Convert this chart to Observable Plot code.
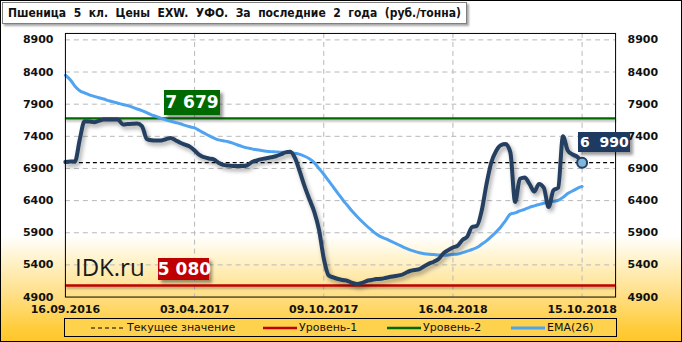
<!DOCTYPE html>
<html>
<head>
<meta charset="utf-8">
<script src="https://cdn.jsdelivr.net/npm/d3@7"></script>
<script src="https://cdn.jsdelivr.net/npm/@observablehq/plot@0.6"></script>
<style>
  html, body { margin: 0; padding: 0; background: #fff; }
  #wrap {
    position: relative; width: 682px; height: 342px; box-sizing: border-box;
    border: 1px solid #000;
    background: linear-gradient(to bottom, #ffffff 0%, #ffffff 69%, #fff3cc 76%, #ffe08a 86%, #ffcd3c 96%, #ffc62a 100%);
    overflow: hidden;
  }
  #chart { position: absolute; left: -1px; top: -1px; }
  #title {
    position: absolute; left: 1px; top: 1px; height: 20px; padding: 0 5px;
    background: #fff; border: 1px solid #7f7f7f; box-shadow: 2px 2px 2px rgba(0,0,0,0.35);
    font: bold 12px "DejaVu Sans Condensed", "DejaVu Sans", sans-serif; line-height: 20px; color: #111;
    white-space: pre;
  }
  .vlabel {
    position: absolute; color: #fff; font-family: "DejaVu Sans", sans-serif; font-weight: bold;
    text-align: center; box-shadow: 3px 3px 3px rgba(0,0,0,0.4); white-space: pre;
  }
  #brand { position: absolute; font: 24px "Open Sans", sans-serif; color: #1a1a1a; }
  #legend {
    position: absolute; left: 63px; top: 317px; width: 553px; height: 19px; box-sizing: border-box;
    border: 1px solid #000; background: #ffd24d;
    font: 11px "DejaVu Sans", sans-serif; color: #111;
  }
  #legend .it { position: absolute; top: 2px; height: 14px; line-height: 14px; white-space: nowrap; }
  #legend svg { vertical-align: middle; }
</style>
</head>
<body>
<div id="wrap">
  <div id="chart"></div>
</div>
<script>
const title = "Пшеница  5  кл.  Цены  EXW.  УФО.  За  последние  2  года  (руб./тонна)";
const tickIndex = [0, 27, 54, 81, 108];
const tickLabels = ["16.09.2016", "03.04.2017", "09.10.2017", "16.04.2018", "15.10.2018"];
const yTicks = [4900, 5400, 5900, 6400, 6900, 7400, 7900, 8400, 8900];
const price = [7000,7010,7010,7350,7634,7630,7620,7640,7660,7660,7660,7660,7585,7590,7595,7598,7560,7360,7340,7335,
  7335,7355,7375,7340,7300,7270,7240,7180,7110,7075,7055,7040,6990,6955,6945,6940,6940,6938,6950,7000,
  7025,7045,7060,7075,7090,7117,7150,7160,7060,6850,6620,6420,6230,5950,5500,5240,5205,5180,5165,5150,
  5120,5102,5120,5150,5165,5180,5185,5200,5215,5228,5240,5270,5305,5320,5333,5380,5420,5450,5490,5580,
  5630,5670,5700,5790,5840,5990,6006,6239,6650,6990,7168,7261,7280,7150,6380,6740,6760,6660,6540,6660,
  6600,6300,6560,6600,7400,7180,7117,7080,6990];
const ema = [8350,8280,8180,8110,8075,8045,8022,8000,7980,7955,7935,7915,7895,7878,7855,7825,7800,7770,7735,7710,
  7680,7655,7635,7615,7595,7570,7548,7530,7490,7450,7410,7375,7345,7330,7315,7295,7265,7240,7220,7205,
  7190,7178,7168,7162,7158,7152,7150,7147,7135,7120,7090,7050,6990,6900,6810,6710,6610,6510,6410,6320,
  6230,6150,6075,6005,5940,5880,5835,5805,5770,5735,5700,5665,5635,5610,5590,5575,5565,5560,5555,5552,
  5555,5562,5570,5590,5615,5640,5670,5720,5774,5840,5910,5990,6090,6190,6210,6239,6265,6295,6318,6340,
  6360,6375,6390,6405,6450,6510,6550,6590,6620];
const level1 = 5080;
const level2 = 7679;
const current = 6990;
const legendLabels = ["Текущее значение", "Уровень-1", "Уровень-2", "EMA(26)"];

const priceData = price.map((v, i) => ({i, v}));
const emaData = ema.map((v, i) => ({i, v}));
const last = priceData[priceData.length - 1];

const NAVY = "#243f60", BLUE = "#4fa3f0", GREEN = "#006a00", RED = "#c00000";

const plot = Plot.plot({
  width: 682, height: 342,
  marginLeft: 65, marginRight: 66, marginTop: 33, marginBottom: 45,
  style: {background: "transparent", fontFamily: "DejaVu Sans, sans-serif", fontSize: "11px", fontWeight: "bold", color: "#111", overflow: "visible"},
  x: {type: "linear", domain: [0, 115], ticks: tickIndex, tickFormat: i => tickLabels[tickIndex.indexOf(i)], tickSize: 0, tickPadding: 8, label: null},
  y: {domain: [4900, 9000], ticks: yTicks, tickFormat: d => String(d), tickSize: 0, tickPadding: 12, axis: "both", label: null},
  marks: [
    Plot.ruleY(yTicks.slice(1), {stroke: "#b8b8b8", strokeDasharray: "5,4", strokeWidth: 1}),
    Plot.ruleX(tickIndex.slice(1), {stroke: "#b8b8b8", strokeDasharray: "5,4", strokeWidth: 1}),
    Plot.ruleY([current], {stroke: "#000", strokeDasharray: "4,3", strokeWidth: 1.2}),
    Plot.ruleY([level2], {stroke: GREEN, strokeWidth: 2.2}),
    Plot.ruleY([level1], {stroke: RED, strokeWidth: 2.5}),
    Plot.line(emaData, {x: "i", y: "v", stroke: BLUE, strokeWidth: 3, curve: "monotone-x"}),
    Plot.line(priceData, {x: "i", y: "v", stroke: NAVY, strokeWidth: 4, curve: "monotone-x"}),
    Plot.dot([last], {x: "i", y: "v", r: 5, fill: "#7fb6dc", stroke: NAVY, strokeWidth: 2}),
    Plot.frame({stroke: "#000", strokeWidth: 1})
  ]
});
document.getElementById("chart").appendChild(plot);

// shadows on series lines
d3.select(plot).selectAll(`[stroke="${NAVY}"] path, path[stroke="${NAVY}"]`).style("filter", "drop-shadow(2px 3px 2px rgba(0,0,0,0.35))");
d3.select(plot).selectAll(`[stroke="${GREEN}"], [stroke="${RED}"]`).style("filter", "drop-shadow(1px 2px 1px rgba(0,0,0,0.3))");
// axis label x offsets for the right axis
const wrap = document.getElementById("wrap");
const xs = plot.scale("x"), ys = plot.scale("y");

// title
const t = document.createElement("div");
t.id = "title"; t.textContent = title; wrap.appendChild(t);

// value labels positioned through the scales
function label(text, bg, cx, bottom, w, h, size) {
  const d = document.createElement("div");
  d.className = "vlabel"; d.textContent = text;
  Object.assign(d.style, {background: bg, width: w + "px", height: h + "px", lineHeight: h + "px",
    left: (cx - w / 2 - 1) + "px", top: (bottom - h - 1) + "px", fontSize: size + "px"});
  wrap.appendChild(d);
}
label("7 679", GREEN, xs.apply(26.5), ys.apply(level2) - 3, 56, 25, 17);
label("5 080", RED, xs.apply(24.7), ys.apply(level1) - 5, 51, 22, 17);
label("6  990", "#1f3a60", xs.apply(last.i) + 22, ys.apply(last.v) - 10, 52, 20, 14);

// brand
const b = document.createElement("div");
b.id = "brand"; b.textContent = "IDK.ru";
b.style.left = "74px"; b.style.top = (ys.apply(level1) - 36) + "px";
wrap.appendChild(b);

// legend
const lg = document.createElement("div"); lg.id = "legend"; wrap.appendChild(lg);
const items = [
  {x: 26, stroke: "#000", dash: "4,3", w: 1.2, label: legendLabels[0]},
  {x: 198, stroke: RED, dash: null, w: 2.5, label: legendLabels[1]},
  {x: 322, stroke: GREEN, dash: null, w: 2.5, label: legendLabels[2]},
  {x: 446, stroke: BLUE, dash: null, w: 3, label: legendLabels[3]}
];
for (const it of items) {
  const d = document.createElement("div"); d.className = "it"; d.style.left = it.x + "px";
  d.innerHTML = `<svg width="36" height="10"><line x1="0" x2="34" y1="5" y2="5" stroke="${it.stroke}" stroke-width="${it.w}" ${it.dash ? `stroke-dasharray="${it.dash}"` : ""}/></svg><span>${it.label}</span>`;
  lg.appendChild(d);
}
</script>
</body>
</html>
